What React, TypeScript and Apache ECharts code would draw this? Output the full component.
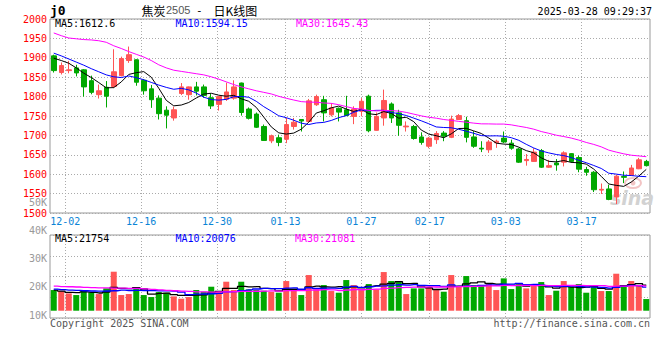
import React, { useEffect, useRef } from 'react';
import * as echarts from 'echarts';

// ---- data ----
const dates = [
  '11-28', '11-29',
  '12-02', '12-03', '12-04', '12-05', '12-06',
  '12-09', '12-10', '12-11', '12-12', '12-13',
  '12-16', '12-17', '12-18', '12-19', '12-20',
  '12-23', '12-24', '12-25', '12-26', '12-27',
  '12-30', '12-31',
  '01-02', '01-03',
  '01-06', '01-07', '01-08', '01-09', '01-10',
  '01-13', '01-14', '01-15', '01-16', '01-17',
  '01-20', '01-21', '01-22', '01-23', '01-24',
  '01-27',
  '02-05', '02-06', '02-07',
  '02-10', '02-11', '02-12', '02-13', '02-14',
  '02-17', '02-18', '02-19', '02-20', '02-21',
  '02-24', '02-25', '02-26', '02-27', '02-28',
  '03-03', '03-04', '03-05', '03-06', '03-07',
  '03-10', '03-11', '03-12', '03-13', '03-14',
  '03-17', '03-18', '03-19', '03-20', '03-21',
  '03-24', '03-25', '03-26', '03-27', '03-28',
];

const tickLabels = ['12-02', '12-16', '12-30', '01-13', '01-27', '02-17', '03-03', '03-17'];

// [open, close, low, high]
const candles: number[][] = [
  [1905, 1867, 1862, 1908], [1862, 1880, 1857, 1888], [1867, 1869, 1860, 1892], [1874, 1861, 1852, 1882],
  [1869, 1825, 1800, 1871], [1841, 1811, 1806, 1854], [1805, 1815, 1795, 1831], [1824, 1801, 1772, 1840],
  [1826, 1864, 1822, 1922], [1854, 1898, 1852, 1903], [1893, 1908, 1887, 1929], [1895, 1837, 1828, 1896],
  [1842, 1815, 1805, 1845], [1820, 1792, 1771, 1830], [1796, 1756, 1741, 1803], [1765, 1752, 1718, 1775],
  [1745, 1766, 1738, 1774], [1808, 1825, 1804, 1835], [1805, 1825, 1792, 1826], [1825, 1814, 1803, 1838],
  [1825, 1803, 1797, 1831], [1797, 1776, 1768, 1808], [1780, 1800, 1764, 1801], [1793, 1812, 1789, 1836],
  [1796, 1825, 1792, 1842], [1835, 1759, 1751, 1836], [1768, 1744, 1741, 1772], [1755, 1721, 1719, 1759],
  [1723, 1687, 1686, 1728], [1686, 1699, 1680, 1702], [1694, 1682, 1672, 1702], [1690, 1728, 1680, 1745],
  [1723, 1734, 1715, 1745], [1741, 1737, 1710, 1742], [1736, 1789, 1735, 1794], [1779, 1800, 1776, 1805],
  [1792, 1758, 1736, 1802], [1753, 1771, 1749, 1783], [1770, 1760, 1736, 1772], [1766, 1751, 1750, 1802],
  [1749, 1768, 1729, 1775], [1762, 1788, 1749, 1796], [1801, 1712, 1708, 1805], [1713, 1749, 1712, 1759],
  [1745, 1790, 1725, 1818], [1781, 1745, 1732, 1785], [1758, 1726, 1699, 1766], [1722, 1724, 1710, 1736],
  [1723, 1692, 1689, 1727], [1696, 1682, 1676, 1708], [1672, 1693, 1667, 1696], [1689, 1705, 1678, 1711],
  [1706, 1698, 1685, 1711], [1695, 1742, 1693, 1751], [1741, 1751, 1740, 1755], [1738, 1695, 1682, 1748],
  [1696, 1672, 1668, 1711], [1667, 1665, 1657, 1685], [1663, 1683, 1655, 1688], [1681, 1685, 1668, 1689],
  [1693, 1683, 1680, 1710], [1680, 1667, 1663, 1689], [1665, 1631, 1629, 1668], [1635, 1638, 1622, 1652],
  [1633, 1657, 1632, 1667], [1661, 1618, 1616, 1665], [1618, 1622, 1616, 1637], [1629, 1624, 1609, 1639],
  [1631, 1655, 1620, 1659], [1653, 1633, 1629, 1654], [1643, 1613, 1605, 1648], [1612, 1605, 1596, 1619],
  [1605, 1560, 1554, 1608], [1559, 1561, 1549, 1576], [1562, 1535, 1533, 1573], [1541, 1595, 1523, 1599],
  [1594, 1592, 1577, 1607], [1597, 1616, 1596, 1624], [1614, 1637, 1613, 1642], [1633, 1622, 1620, 1637],
];

const volumes = [
  17610, 16760, 14770, 13350, 17610, 15620, 14200, 19030, 33230, 13350,
  14200, 18460, 13350, 11640, 15900, 15340, 12210, 10220, 11640, 17610,
  16190, 20450, 16190, 24710, 17610, 24710, 18180, 17610, 17040, 16190,
  15340, 25280, 17610, 13350, 30390, 18180, 21870, 16760, 15340, 26130,
  21870, 17610, 22720, 18180, 32940, 25280, 24420, 14200, 19030, 19030,
  20450, 17610, 16190, 30390, 20450, 29540, 21870, 21020, 23290, 17610,
  27550, 18460, 22440, 19030, 22720, 24420, 13350, 17040, 25280, 20450,
  22720, 15340, 20450, 16760, 16760, 31520, 21020, 25280, 21020, 9940,
];

// leading moving-average values (their windows start before the first visible day)
const ma5Head = [1899, 1893, 1886, 1874];
const ma10Head = [1912, 1905, 1897, 1889, 1881, 1872, 1864, 1856, 1851];
const ma30Head = [
  1964, 1957, 1951, 1949, 1947, 1946, 1944, 1940, 1931, 1924,
  1916, 1909, 1902, 1893, 1882, 1874, 1868, 1865, 1862, 1859,
  1856, 1851, 1845, 1838, 1831, 1825, 1820, 1815, 1811,
];
const volMa5Head = [17600, 16750, 15600, 15340];
const volMa10Head = [18460, 18000, 17600, 17300, 17000, 16800, 16700, 16800, 17000];
const volMa30Head = [
  20900, 20600, 20400, 20200, 19900, 19600, 19500, 19400, 19300, 19200,
  19100, 19000, 18600, 18100, 17700, 17300, 17000, 16700, 16400, 16100,
  16000, 15900, 16000, 16100, 16300, 16400, 16500, 16600, 16700,
];

const volTickValues = [10000, 20000, 30000, 40000, 50000];
const volTickLabels = ['10K', '20K', '30K', '40K', '50K'];

const maLegend = ['MA5:1612.6', 'MA10:1594.15', 'MA30:1645.43'];
const volLegend = ['MA5:21754', 'MA10:20076', 'MA30:21081'];
const maColors = ['#000000', '#0000ff', '#ff00ff'];

const RED = '#ff5555';
const GREEN = '#00a800';
const MONO = 'DejaVu Sans Mono';

function movingAverage(values: number[], n: number, head: number[]) {
  return values.map((_, i) => {
    if (i < n - 1) return head[i];
    let s = 0;
    for (let k = i - n + 1; k <= i; k++) s += values[k];
    return +(s / n).toFixed(2);
  });
}

function txt(text: string, x: number, y: number, fill: string, font: string, align = 'left') {
  return {
    type: 'text',
    x,
    y,
    silent: true,
    z: 10,
    style: {
      text,
      fill,
      font,
      textAlign: align,
      align,
      textVerticalAlign: 'middle',
      verticalAlign: 'middle',
    },
  };
}

export default function App() {
  const ref = useRef<HTMLDivElement>(null);

  useEffect(() => {
    if (!ref.current) return;
    const chart = echarts.init(ref.current, null, { renderer: 'svg' });
    const closes = candles.map((c) => c[1]);
    const ma5 = movingAverage(closes, 5, ma5Head);
    const ma10 = movingAverage(closes, 10, ma10Head);
    const ma30 = movingAverage(closes, 30, ma30Head);
    const vma5 = movingAverage(volumes, 5, volMa5Head);
    const vma10 = movingAverage(volumes, 10, volMa10Head);
    const vma30 = movingAverage(volumes, 30, volMa30Head);

    const dotted = { color: '#aaaaaa', type: [1, 2] as any, width: 1 };
    const showTick = (_i: number, v: string) => tickLabels.indexOf(v) >= 0;

    const option: any = {
      animation: false,
      backgroundColor: '#ffffff',
      grid: [
        { left: 50, right: 10, top: 19, height: 194, show: true, borderColor: '#999999', borderWidth: 1 },
        { left: 50, right: 10, top: 235, height: 83, show: true, borderColor: '#999999', borderWidth: 1 },
        { left: 50, right: 10, top: 202, height: 113, show: false },
      ],
      xAxis: [
        { type: 'category', gridIndex: 0, data: dates, boundaryGap: true, show: false, position: 'bottom' },
        {
          type: 'category', gridIndex: 0, data: dates, boundaryGap: false, position: 'bottom',
          axisLine: { show: false }, axisTick: { show: false },
          axisLabel: { interval: showTick, color: '#0a84d6', fontFamily: MONO, fontSize: 10, margin: 3 },
          splitLine: { show: true, interval: showTick, lineStyle: dotted },
        },
        { type: 'category', gridIndex: 1, data: dates, boundaryGap: true, show: false, position: 'bottom' },
        {
          type: 'category', gridIndex: 1, data: dates, boundaryGap: false, position: 'bottom',
          axisLine: { show: false }, axisTick: { show: false }, axisLabel: { show: false },
          splitLine: { show: true, interval: showTick, lineStyle: dotted },
        },
        { type: 'value', gridIndex: 2, min: 0, max: 1, show: false },
      ],
      yAxis: [
        {
          type: 'value', gridIndex: 0, min: 1500, max: 2000, interval: 50, position: 'left',
          axisLine: { show: false }, axisTick: { show: false },
          axisLabel: {
            color: '#ff0000', fontFamily: MONO, fontSize: 10, margin: 3, showMinLabel: true, showMaxLabel: true,
            formatter: (v: number) => String(v),
          },
          splitLine: { show: true, lineStyle: dotted },
        },
        { type: 'value', gridIndex: 1, min: -6200, max: 64500, show: false, splitLine: { show: false } },
        {
          type: 'value', gridIndex: 1, min: 0, max: 4, interval: 1, position: 'left',
          axisLine: { show: false }, axisTick: { show: false }, axisLabel: { show: false },
          splitLine: { show: true, lineStyle: dotted },
        },
        {
          type: 'value', gridIndex: 2, min: 10000, max: 50000, interval: 10000, position: 'left',
          axisLine: { show: false }, axisTick: { show: false }, splitLine: { show: false },
          axisLabel: {
            color: '#999999', fontFamily: MONO, fontSize: 10, margin: 3, showMinLabel: true, showMaxLabel: true,
            hideOverlap: false,
            formatter: (v: number) => volTickLabels[volTickValues.indexOf(v)] || '',
          },
        },
      ],
      series: [
        {
          type: 'candlestick', xAxisIndex: 0, yAxisIndex: 0, barWidth: 5,
          data: candles.map((c) => [c[0], c[1], c[2], c[3]]),
          itemStyle: { color: RED, color0: GREEN, borderColor: RED, borderColor0: GREEN, borderWidth: 1 },
        },
        ...[ma5, ma10, ma30].map((d, k) => ({
          type: 'line', xAxisIndex: 0, yAxisIndex: 0, data: d, symbol: 'none', z: 3,
          lineStyle: { color: maColors[k], width: 1 },
        })),
        {
          type: 'bar', xAxisIndex: 2, yAxisIndex: 1, barWidth: 6,
          data: volumes.map((v, i) => ({
            value: v,
            itemStyle: { color: candles[i][1] >= candles[i][0] ? RED : GREEN },
          })),
        },
        ...[vma5, vma10, vma30].map((d, k) => ({
          type: 'line', xAxisIndex: 2, yAxisIndex: 1, data: d, symbol: 'none', step: 'middle', z: 3,
          lineStyle: { color: maColors[k], width: 1.3 },
        })),
      ],
      graphic: {
        elements: [
          {
            type: 'ellipse', z: 1, silent: true,
            shape: { cx: 633, cy: 183, rx: 8, ry: 5 },
            style: { fill: 'none', stroke: '#f2c4c4', lineWidth: 2 },
          },
          {
            type: 'circle', z: 1, silent: true,
            shape: { cx: 633, cy: 183, r: 2.5 },
            style: { fill: '#f2c4c4' },
          },
          {
            type: 'text', x: 632, y: 198, z: 1, silent: true,
            style: {
              text: 'sina', fill: '#d2d2d2', font: 'italic bold 19px "DejaVu Sans"',
              textAlign: 'center', align: 'center', textVerticalAlign: 'middle', verticalAlign: 'middle',
            },
          },
          txt('j0', 50, 10.5, '#000000', `bold 13px "${MONO}"`),
          txt('焦炭', 141.5, 10, '#000000', '12px "Noto Sans CJK SC"'),
          txt('2505', 166, 10, '#555555', '11px "Liberation Sans"'),
          txt('-', 196, 10, '#000000', `11px "${MONO}"`),
          txt('日K线图', 213.5, 10, '#000000', '12px "Noto Sans CJK SC"'),
          txt('2025-03-28 09:29:37', 652, 11, '#000000', `10px "${MONO}"`, 'right'),
          ...maLegend.map((t, k) => txt(t, [55, 175.5, 296][k], 23.5, maColors[k], `10px "${MONO}"`)),
          ...volLegend.map((t, k) => txt(t, [55, 175.5, 295][k], 238.5, maColors[k], `10px "${MONO}"`)),
          txt('Copyright 2025 SINA.COM', 50, 323.5, '#555555', `10px "${MONO}"`),
          txt('http://finance.sina.com.cn', 650, 323.5, '#555555', `10px "${MONO}"`, 'right'),
        ],
      },
    };

    chart.setOption(option);
    return () => chart.dispose();
  }, []);

  return (
    <div
      ref={ref}
      style={{ position: 'fixed', left: 0, top: 0, width: 660, height: 360, background: '#ffffff' }}
    />
  );
}
